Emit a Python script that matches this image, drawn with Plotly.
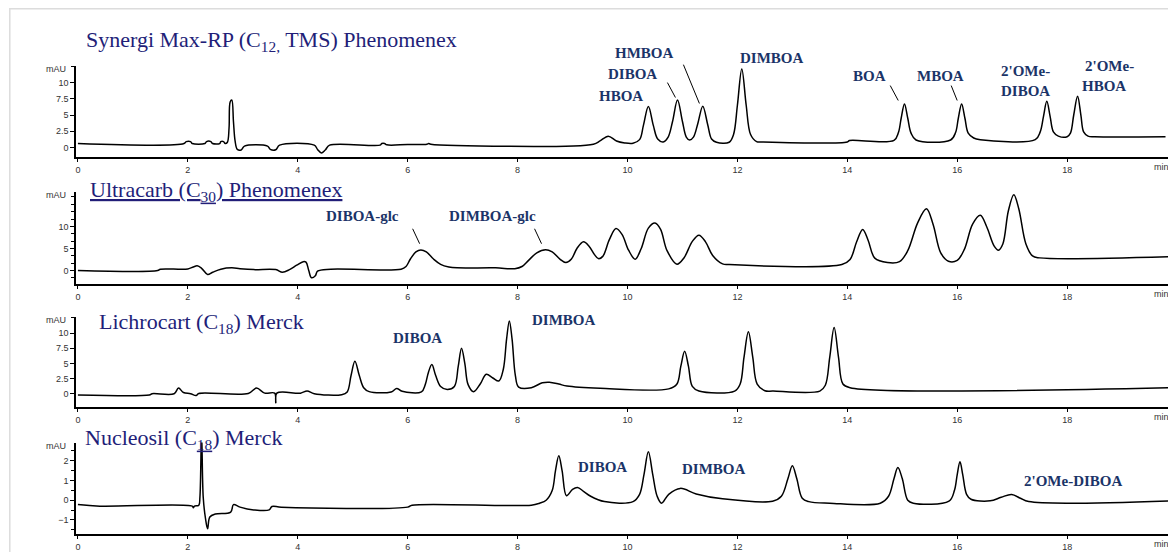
import plotly.graph_objects as go

# ---------------- data: (retention time [min], signal [mAU]) -------------
SYNERGI = [
    (0.0, 0.6), (1.93, 0.6), (1.97, 0.9), (2.05, 0.9), (2.08, 0.6), (2.31, 0.6), (2.34, 0.9),
    (2.42, 0.9), (2.45, 0.6), (2.58, 0.6), (2.6, 0.9), (2.65, 0.9), (2.68, 0.6),
    (2.72, 0.8), (2.75, 3.0), (2.77, 7.0), (2.8, 7.3), (2.83, 4.0), (2.86, 1.0), (2.9, -0.3),
    (2.97, -0.4), (3.03, 0.2), (3.45, 0.2), (3.5, -0.3), (3.6, -0.35), (3.67, 0.35),
    (4.3, 0.35), (4.36, -0.3), (4.43, -0.85), (4.5, -0.4), (4.58, 0.35), (5.5, 0.35),
    (5.53, 0.6), (5.58, 0.6), (5.62, 0.4), (6.0, 0.45), (6.35, 0.5), (6.38, 0.6), (6.42, 0.5),
    (9.38, 0.5), (9.5, 1.0), (9.65, 1.74), (9.8, 1.0), (9.95, 0.7), (10.1, 0.65),
    (10.22, 1.2), (10.29, 3.4), (10.38, 6.3), (10.47, 3.4), (10.55, 1.3), (10.65, 0.85),
    (10.74, 1.6), (10.82, 4.0), (10.91, 7.3), (11.0, 4.0), (11.07, 1.6), (11.13, 1.15),
    (11.2, 1.6), (11.28, 3.7), (11.37, 6.35), (11.46, 3.5), (11.53, 1.3), (11.62, 0.8),
    (11.85, 0.8), (11.93, 2.0), (12.0, 6.5), (12.08, 12.1), (12.16, 6.5), (12.24, 2.0),
    (12.35, 0.9), (12.45, 0.85), (14.0, 0.85), (14.04, 1.07), (14.85, 1.1), (14.93, 2.3),
    (14.98, 4.5), (15.04, 6.7), (15.1, 4.5), (15.16, 2.2), (15.25, 1.15), (15.88, 1.15),
    (15.97, 2.3), (16.02, 4.5), (16.08, 6.7), (16.14, 4.5), (16.2, 2.2), (16.3, 1.45),
    (16.42, 1.2), (17.42, 1.2), (17.51, 2.4), (17.57, 4.8), (17.63, 7.1), (17.69, 4.8),
    (17.75, 2.4), (17.84, 1.75), (18.0, 1.65), (18.06, 2.2), (18.12, 5.0), (18.19, 7.9),
    (18.25, 5.0), (18.3, 2.4), (18.38, 1.75), (18.5, 1.65), (19.79, 1.65),
]

ULTRACARB = [
    (0.0, 0.0), (1.45, 0.0), (1.5, 0.3), (2.0, 0.35), (2.1, 0.8), (2.17, 1.05), (2.25, 0.5),
    (2.36, -0.9), (2.45, -0.4), (2.6, 0.3), (2.8, 0.6), (2.95, 0.4), (3.2, 0.2), (3.6, 0.2),
    (3.72, -0.4), (3.85, 0.2), (3.98, 1.2), (4.1, 2.0), (4.15, 1.9), (4.2, 0.0), (4.25, -1.65),
    (4.32, -1.2), (4.36, -0.15), (4.6, 0.3), (5.88, 0.3), (5.97, 0.9), (6.05, 2.6),
    (6.15, 4.2), (6.24, 4.66), (6.34, 4.2), (6.47, 2.6), (6.6, 1.4), (6.75, 0.8), (6.9, 0.6),
    (7.6, 0.6), (7.95, 0.4), (8.08, 0.9), (8.2, 2.3), (8.35, 4.0), (8.51, 4.7), (8.63, 4.2),
    (8.77, 2.6), (8.88, 1.8), (8.98, 2.6), (9.08, 5.0), (9.2, 6.5), (9.3, 5.5), (9.4, 3.6),
    (9.47, 2.7), (9.55, 3.2), (9.67, 7.0), (9.79, 9.5), (9.9, 8.2), (10.02, 4.6),
    (10.14, 2.56), (10.25, 5.0), (10.38, 9.6), (10.5, 10.75), (10.6, 9.4), (10.72, 4.5),
    (10.9, 1.43), (11.03, 2.9), (11.18, 6.6), (11.3, 8.0), (11.42, 6.5), (11.55, 3.4),
    (11.73, 1.5), (11.85, 1.35), (13.9, 1.35), (14.05, 2.5), (14.17, 6.5), (14.28, 9.3),
    (14.38, 6.8), (14.5, 2.8), (14.73, 1.8), (14.95, 2.0), (15.1, 4.5), (15.28, 10.8),
    (15.44, 14.0), (15.56, 10.5), (15.7, 4.0), (15.84, 2.1), (16.0, 2.3), (16.13, 4.8),
    (16.28, 10.5), (16.42, 12.5), (16.54, 9.8), (16.67, 5.6), (16.75, 4.6), (16.83, 6.0),
    (16.93, 13.5), (17.03, 17.2), (17.12, 14.0), (17.25, 6.0), (17.37, 3.3), (17.5, 2.86),
    (19.98, 3.16),
]

LICHROCART = [
    (0.0, -0.2), (1.3, -0.2), (1.35, 0.0), (1.75, 0.0), (1.83, 0.93), (1.92, 0.2), (2.05, 0.0),
    (2.15, -0.3), (2.2, 0.05), (3.1, 0.05), (3.25, 0.93), (3.4, 0.1), (3.58, 0.1), (3.6, -1.5),
    (3.62, 0.1), (4.05, 0.1), (4.17, 0.45), (4.3, 0.0), (4.8, -0.15), (4.9, 0.3), (4.97, 3.0),
    (5.04, 5.35), (5.12, 3.0), (5.2, 1.0), (5.3, 0.35), (5.7, 0.3), (5.8, 0.87), (5.9, 0.4),
    (6.25, 0.3), (6.32, 1.5), (6.38, 3.6), (6.44, 4.8), (6.51, 3.0), (6.6, 1.2), (6.72, 0.7),
    (6.85, 1.2), (6.92, 4.5), (6.98, 7.5), (7.04, 5.0), (7.1, 1.5), (7.2, 0.33), (7.32, 1.6),
    (7.43, 3.2), (7.55, 2.6), (7.66, 2.1), (7.74, 4.0), (7.8, 9.0), (7.85, 12.0), (7.9, 9.0),
    (7.96, 3.0), (8.02, 1.1), (8.25, 1.0), (8.45, 1.8), (8.58, 1.9), (8.75, 1.6), (8.9, 1.26),
    (9.5, 0.9), (10.75, 0.8), (10.9, 1.6), (10.97, 4.5), (11.04, 7.0), (11.11, 4.5),
    (11.18, 1.2), (11.3, 0.44), (11.95, 0.44), (12.05, 1.6), (12.12, 6.0), (12.2, 10.2),
    (12.28, 6.0), (12.36, 1.6), (12.5, 0.5), (12.65, 0.44), (13.5, 0.44), (13.6, 1.4),
    (13.68, 6.0), (13.76, 10.9), (13.84, 6.0), (13.92, 1.6), (14.05, 1.0), (19.98, 1.0),
]

NUCLEOSIL = [
    (0.0, -0.22), (0.4, -0.3), (2.08, -0.3), (2.1, -0.38), (2.12, -0.3), (2.2, -0.25),
    (2.22, 0.15), (2.25, 3.4), (2.28, 0.15), (2.32, -0.9), (2.36, -1.45), (2.4, -0.85),
    (2.5, -0.7), (2.78, -0.6), (2.83, -0.22), (2.95, -0.35), (3.2, -0.49), (3.48, -0.49),
    (3.53, -0.32), (3.7, -0.35), (6.0, -0.35), (6.08, -0.25), (8.25, -0.25), (8.4, -0.15),
    (8.52, 0.0), (8.63, 0.49), (8.69, 1.5), (8.75, 2.25), (8.81, 1.5), (8.89, 0.23),
    (9.0, 0.55), (9.09, 0.65), (9.2, 0.45), (9.33, 0.2), (9.58, -0.07), (10.1, -0.07),
    (10.22, 0.3), (10.3, 1.3), (10.38, 2.45), (10.46, 1.3), (10.54, 0.2), (10.62, -0.15),
    (10.75, 0.3), (10.96, 0.6), (11.25, 0.32), (11.73, 0.07), (12.64, -0.05), (12.8, 0.2),
    (12.92, 1.1), (13.0, 1.75), (13.08, 1.1), (13.18, 0.1), (13.3, -0.07), (13.68, -0.15),
    (14.6, -0.15), (14.75, 0.2), (14.85, 1.1), (14.92, 1.66), (15.0, 1.1), (15.1, 0.0),
    (15.2, -0.15), (15.85, -0.05), (15.95, 0.5), (16.0, 1.3), (16.05, 1.95), (16.1, 1.3),
    (16.17, 0.3), (16.25, 0.05), (16.6, -0.03), (16.8, 0.15), (16.99, 0.29), (17.15, 0.1),
    (17.3, -0.07), (19.98, -0.02),
]

X_TICKS = [0, 2, 4, 6, 8, 10, 12, 14, 16, 18]
Y_TICKS = [[0, 2.5, 5, 7.5, 10], [0, 5, 10], [0, 2.5, 5, 7.5, 10], [-1, 0, 1, 2]]
Y_MINOR = [2.5, 5 / 3, 2.5, 0.5]
Y_RANGES = [[-1.5, 12.6], [-3.1, 17.8], [-2.2, 12.6], [-1.7, 2.92]]

TITLES = [
    "Synergi Max-RP (C<sub>12,</sub> TMS) Phenomenex",
    "<u>Ultracarb (C<sub>30</sub>) Phenomenex</u>",
    "Lichrocart (C<sub>18</sub>) Merck",
    "Nucleosil (C<sub><u>18</u></sub>) Merck",
]

# peak labels: (text, centre x px, centre y px) in window pixels
PEAK_LABELS = [
    ("HMBOA", 644, 53), ("DIBOA", 632, 74), ("HBOA", 621, 96), ("DIMBOA", 772, 58),
    ("BOA", 869, 76), ("MBOA", 940, 76), ("2'OMe-", 1025, 71), ("DIBOA", 1025, 91),
    ("2'OMe-", 1109, 66), ("HBOA", 1104, 86),
    ("DIBOA-glc", 362, 217), ("DIMBOA-glc", 492, 217),
    ("DIBOA", 417, 340), ("DIMBOA", 563, 322),
    ("DIBOA", 602, 470), ("DIMBOA", 714, 472), ("2'OMe-DIBOA", 1073, 484),
]
LEADERS = [
    (667, 83, 675, 98), (683, 65, 699, 104), (890, 86, 898, 101), (951, 86, 957, 101),
    (412, 230, 419, 245), (534, 230, 541, 245),
]

# ---------------- layout geometry ----------------
# the page body has an 8 px margin, so the figure starts at window pixel (8, 8)
OFF = 8
W, H = 1176 - OFF, 552 - OFF
def px(x): return (x - OFF) / W
def py(y): return 1 - (y - OFF) / H

PANEL_TOP = [66, 193, 319, 445]
PANEL_BOT = [158, 285.7, 409.3, 536.7]
TITLE_POS = [(83, 41), (87, 192), (96, 325), (82, 441)]

TITLE_COLOR = "#221e78"
LABEL_COLOR = "#1b3468"
TICK_FONT = dict(family="Liberation Sans, Arial, sans-serif", size=9, color="#333333")

fig = go.Figure()
layout = dict(
    width=W, height=H, margin=dict(l=0, r=0, t=0, b=0),
    paper_bgcolor="white", plot_bgcolor="white", showlegend=False,
)
annotations = []
shapes = []

for i, pts in enumerate([SYNERGI, ULTRACARB, LICHROCART, NUCLEOSIL]):
    n = i + 1
    xa = "x" if n == 1 else f"x{n}"
    ya = "y" if n == 1 else f"y{n}"
    fig.add_trace(go.Scatter(
        x=[p[0] for p in pts], y=[p[1] for p in pts], mode="lines",
        line=dict(color="black", width=1.5, shape="spline", smoothing=1.0),
        xaxis=xa, yaxis=ya, hoverinfo="skip",
    ))
    layout["xaxis" if n == 1 else f"xaxis{n}"] = dict(
        domain=[px(75), px(1171)], range=[-0.036, 19.89], anchor=ya,
        showline=True, linecolor="black", linewidth=2.2,
        ticks="outside", ticklen=3, tickwidth=1, tickcolor="black",
        tickvals=X_TICKS, tickfont=TICK_FONT, showgrid=False, zeroline=False,
    )
    layout["yaxis" if n == 1 else f"yaxis{n}"] = dict(
        domain=[py(PANEL_BOT[i]), py(PANEL_TOP[i])], range=Y_RANGES[i], anchor=xa,
        showline=True, linecolor="black", linewidth=1.5,
        ticks="outside", ticklen=4, tickwidth=1, tickcolor="black",
        tickvals=Y_TICKS[i], tickfont=TICK_FONT, showgrid=False, zeroline=False,
        minor=dict(ticks="outside", ticklen=3, dtick=Y_MINOR[i], tick0=0, tickcolor="black"),
    )
    annotations.append(dict(
        text="mAU", x=px(67), y=py(PANEL_TOP[i] + 3), xref="paper", yref="paper",
        xanchor="right", yanchor="middle", showarrow=False, font=TICK_FONT,
    ))
    annotations.append(dict(
        text="min", x=px(1161), y=py(PANEL_BOT[i] + 10), xref="paper", yref="paper",
        xanchor="center", yanchor="middle", showarrow=False, font=TICK_FONT,
    ))
    tx, ty = TITLE_POS[i]
    annotations.append(dict(
        text=TITLES[i], x=px(tx), y=py(ty), xref="paper", yref="paper",
        xanchor="left", yanchor="middle", showarrow=False,
        font=dict(family="Liberation Serif, Times New Roman, serif", size=22, color=TITLE_COLOR),
    ))

for text, cx, cy in PEAK_LABELS:
    annotations.append(dict(
        text=f"<b>{text}</b>", x=px(cx), y=py(cy), xref="paper", yref="paper",
        xanchor="center", yanchor="middle", showarrow=False,
        font=dict(family="Liberation Serif, Times New Roman, serif", size=15, color=LABEL_COLOR),
    ))

for x0, y0, x1, y1 in LEADERS:
    shapes.append(dict(type="line", xref="paper", yref="paper",
                       x0=px(x0), y0=py(y0), x1=px(x1), y1=py(y1),
                       line=dict(color="black", width=1)))

# light grey frame of the original figure
shapes.append(dict(type="rect", xref="paper", yref="paper",
                   x0=px(8.8), y0=py(8.8), x1=px(1240), y1=py(620),
                   line=dict(color="#dcdcdc", width=1.5), layer="below"))

layout["annotations"] = annotations
layout["shapes"] = shapes
fig.update_layout(**layout)
fig.write_html("out.html")
